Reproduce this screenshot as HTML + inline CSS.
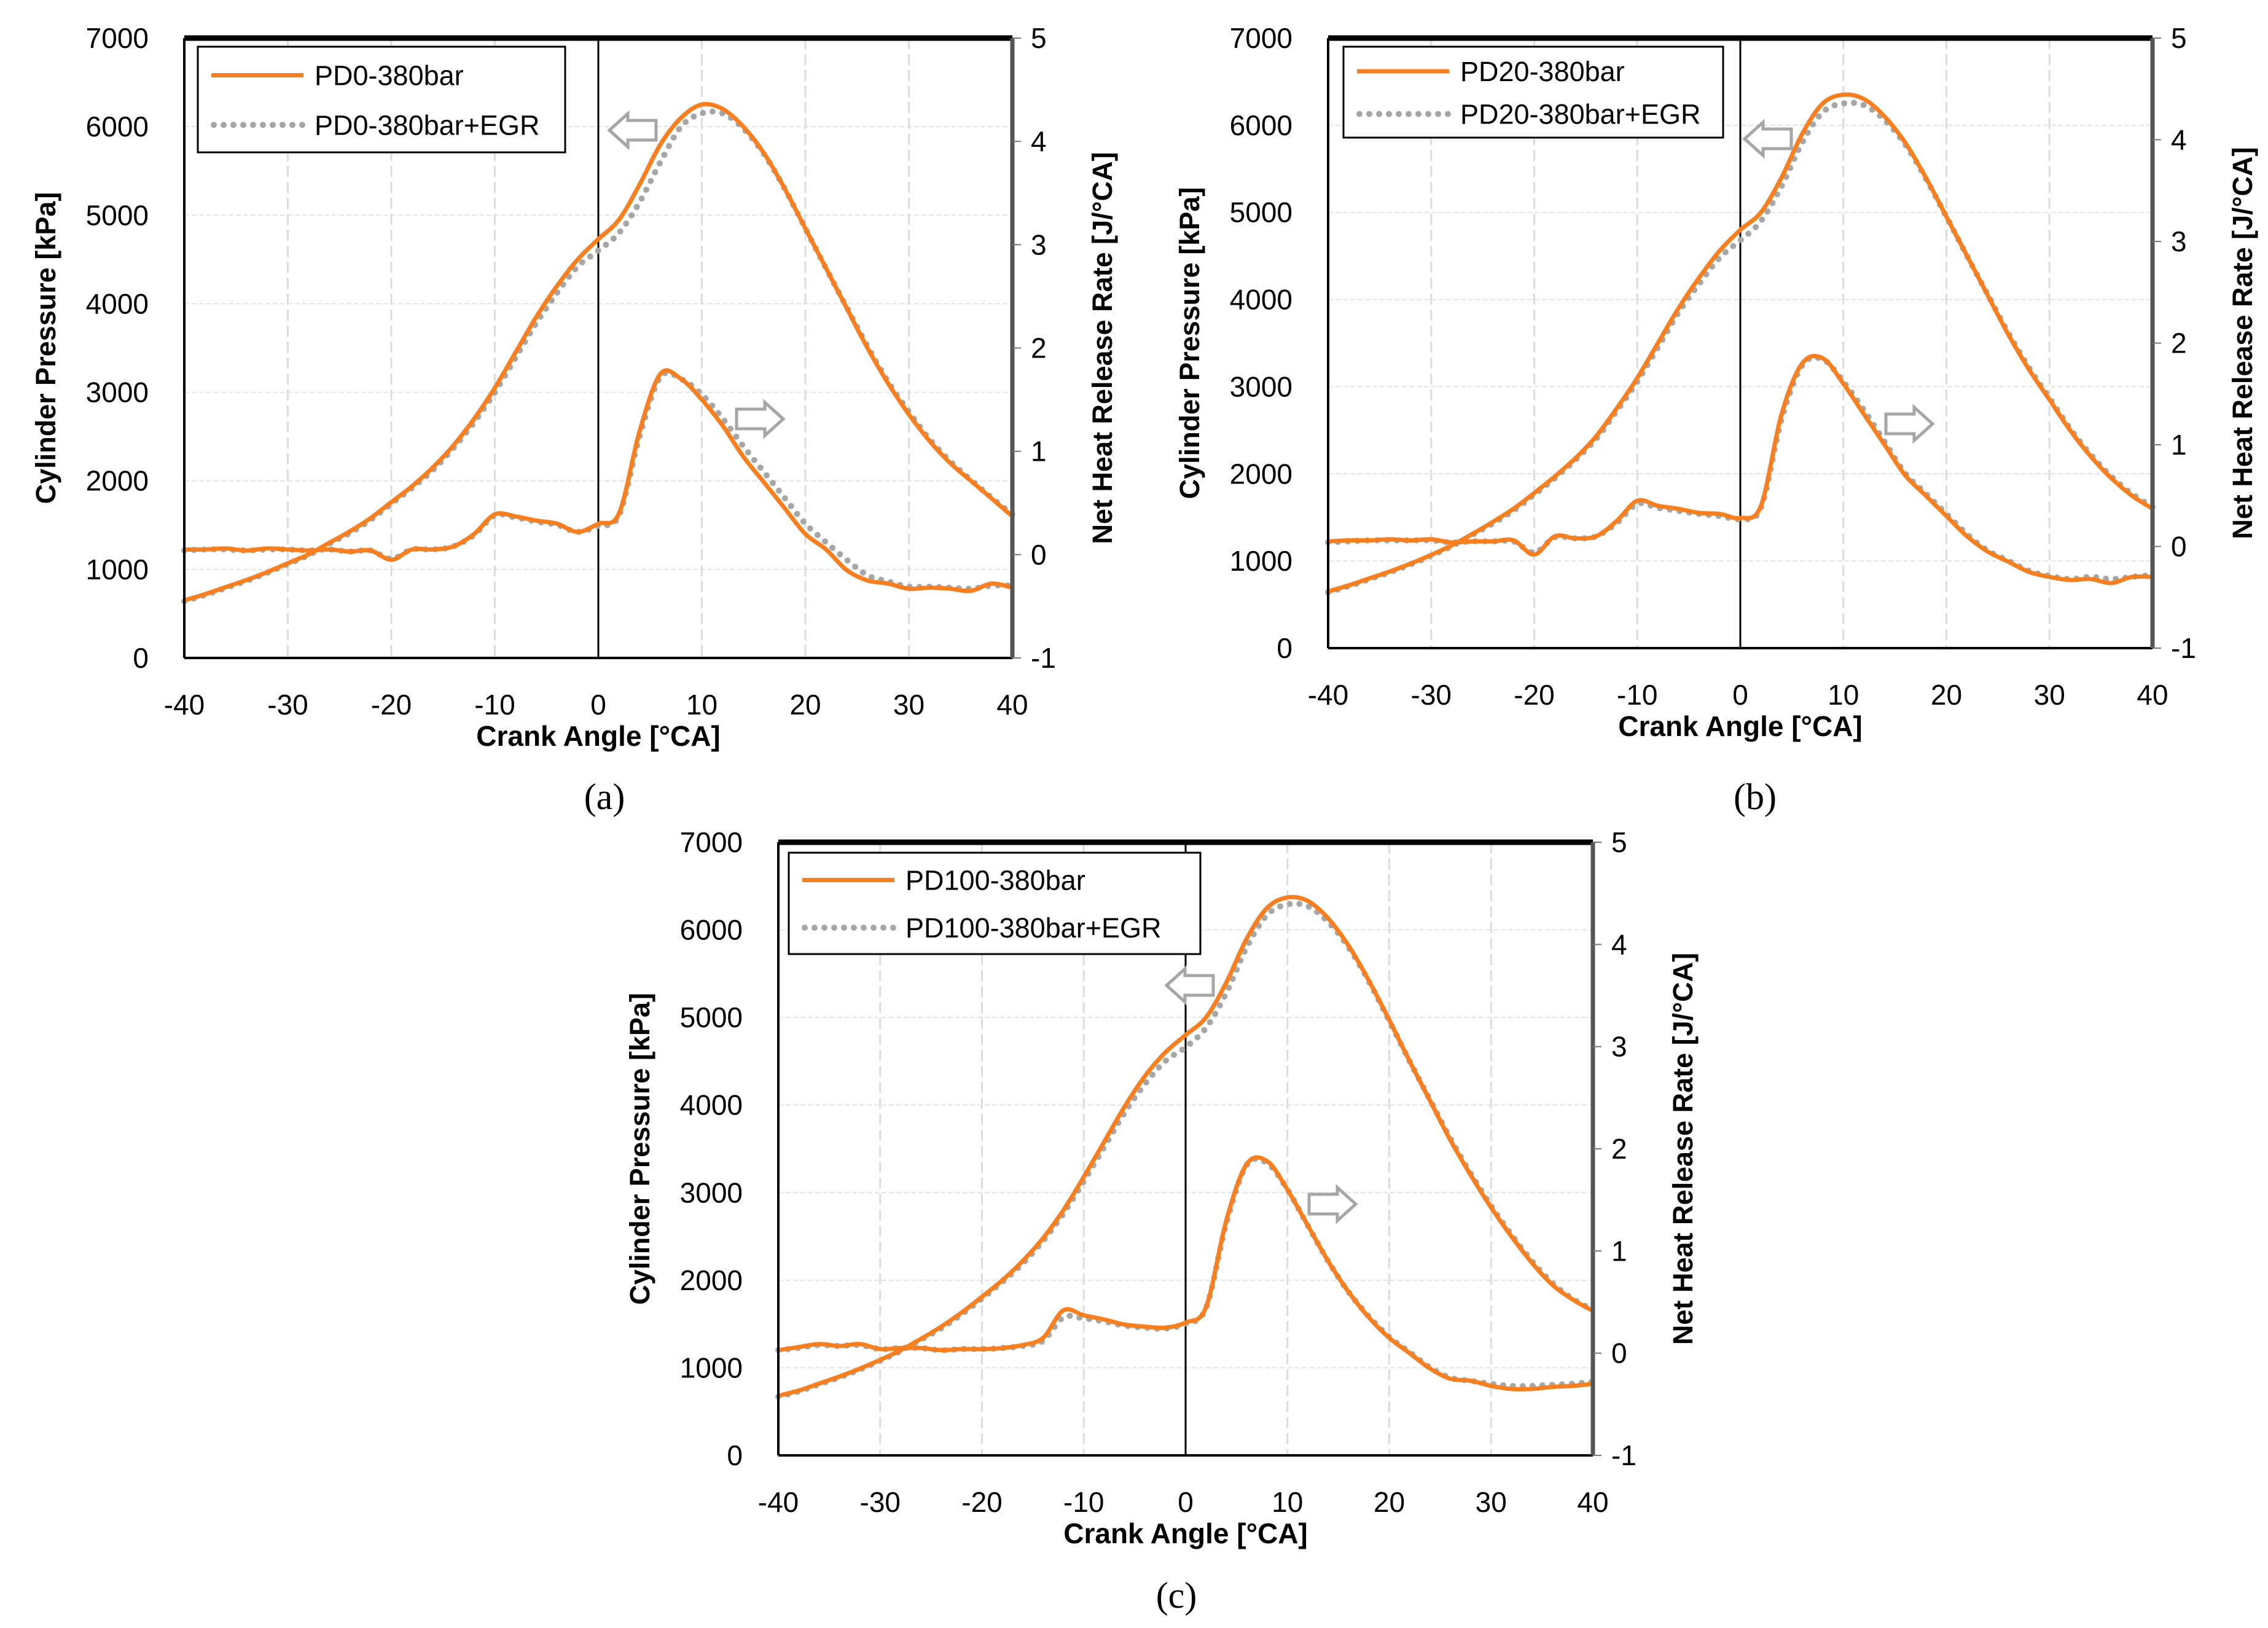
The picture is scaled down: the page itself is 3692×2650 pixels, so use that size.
<!DOCTYPE html>
<html><head><meta charset="utf-8"><style>
html,body{margin:0;padding:0;background:#fff;}
svg{display:block;}
</style></head><body>
<svg id="fig" width="3692" height="2650" viewBox="0 0 3692 2650" xmlns="http://www.w3.org/2000/svg"></svg>
<script>
const angles = [-40,-38,-36,-34,-32,-30,-28,-26,-24,-22,-20,-18,-16,-14,-12,-10,-8,-6,-4,-2,0,2,4,6,8,10,12,14,16,18,20,22,24,26,28,30,32,34,36,38,40];
const xTicks = [-40,-30,-20,-10,0,10,20,30,40];
const pTicks = [0,1000,2000,3000,4000,5000,6000,7000];
const hTicks = [-1,0,1,2,3,4,5];

const pA = [650,720,800,880,970,1070,1170,1300,1430,1580,1760,1940,2150,2400,2700,3050,3450,3850,4200,4500,4730,4950,5350,5800,6100,6250,6200,6000,5700,5300,4850,4400,3950,3500,3100,2750,2450,2200,2000,1800,1600];
const pAegr = [640,710,790,870,960,1060,1160,1290,1410,1560,1740,1920,2120,2370,2660,3000,3390,3780,4120,4420,4600,4800,5150,5600,6000,6150,6150,5980,5690,5300,4850,4400,3960,3520,3120,2780,2470,2220,2010,1810,1620];
const hA = [0.05,0.05,0.06,0.04,0.06,0.05,0.04,0.05,0.03,0.04,-0.05,0.05,0.05,0.08,0.2,0.39,0.37,0.33,0.3,0.22,0.3,0.4,1.2,1.75,1.7,1.5,1.25,0.95,0.7,0.45,0.2,0.05,-0.15,-0.25,-0.28,-0.33,-0.32,-0.33,-0.35,-0.28,-0.32];
const hAegr = [0.04,0.05,0.05,0.04,0.05,0.05,0.04,0.05,0.03,0.04,-0.04,0.05,0.05,0.08,0.19,0.38,0.36,0.32,0.29,0.22,0.28,0.38,1.15,1.72,1.7,1.55,1.32,1.05,0.8,0.55,0.3,0.12,-0.05,-0.2,-0.26,-0.31,-0.31,-0.32,-0.33,-0.3,-0.3];

const pB = [650,720,800,880,970,1070,1180,1310,1450,1600,1780,1970,2180,2430,2750,3100,3500,3900,4250,4560,4800,5000,5400,5900,6250,6350,6300,6100,5800,5400,4950,4500,4050,3600,3200,2850,2500,2200,1950,1750,1600];
const pBegr = [640,710,790,870,960,1060,1170,1300,1430,1580,1760,1950,2160,2400,2720,3060,3450,3850,4180,4480,4680,4900,5300,5800,6150,6250,6230,6060,5780,5390,4950,4500,4060,3620,3220,2870,2520,2220,1970,1770,1620];
const hB = [0.05,0.06,0.06,0.07,0.06,0.07,0.04,0.05,0.05,0.06,-0.08,0.1,0.08,0.1,0.25,0.45,0.4,0.37,0.33,0.32,0.28,0.4,1.3,1.8,1.85,1.6,1.3,1.0,0.7,0.5,0.3,0.1,-0.05,-0.15,-0.25,-0.3,-0.33,-0.32,-0.36,-0.3,-0.3];
const hBegr = [0.04,0.05,0.06,0.06,0.06,0.06,0.04,0.05,0.05,0.05,-0.06,0.09,0.08,0.1,0.23,0.42,0.38,0.35,0.32,0.3,0.27,0.38,1.25,1.78,1.84,1.62,1.34,1.03,0.72,0.52,0.32,0.12,-0.04,-0.14,-0.24,-0.29,-0.32,-0.3,-0.32,-0.3,-0.28];

const pC = [680,740,820,900,990,1090,1200,1330,1470,1630,1810,2000,2220,2480,2800,3180,3580,3980,4330,4600,4800,5000,5400,5900,6250,6370,6330,6130,5820,5420,4970,4500,4050,3600,3200,2830,2500,2200,1950,1780,1650];
const pCegr = [670,730,810,890,980,1080,1190,1320,1450,1610,1790,1980,2190,2450,2760,3130,3520,3910,4240,4500,4660,4880,5280,5800,6170,6290,6270,6090,5800,5410,4960,4500,4060,3620,3220,2850,2520,2220,1970,1790,1660];
const hC = [0.03,0.06,0.09,0.07,0.09,0.04,0.05,0.05,0.03,0.04,0.04,0.05,0.08,0.15,0.42,0.37,0.33,0.28,0.26,0.25,0.3,0.45,1.3,1.85,1.88,1.6,1.25,0.9,0.6,0.35,0.15,0.0,-0.15,-0.25,-0.27,-0.32,-0.35,-0.35,-0.33,-0.32,-0.3];
const hCegr = [0.03,0.05,0.08,0.07,0.08,0.04,0.05,0.05,0.03,0.04,0.04,0.05,0.07,0.12,0.35,0.34,0.31,0.27,0.25,0.24,0.29,0.44,1.27,1.84,1.86,1.6,1.25,0.9,0.6,0.36,0.16,0.01,-0.14,-0.24,-0.27,-0.3,-0.32,-0.32,-0.31,-0.3,-0.28];

const NS='http://www.w3.org/2000/svg';
const svg=document.getElementById('fig');
function el(tag,attrs,parent,txt){const e=document.createElementNS(NS,tag);for(const k in attrs)e.setAttribute(k,attrs[k]);if(txt!==undefined)e.textContent=txt;(parent||svg).appendChild(e);return e;}

function chart(cfg){
  const g=el('g',{});
  
  
  const L=cfg.l,R=cfg.r,T=cfg.t,B=cfg.b;
  const xs=v=>L+(v+40)/80*(R-L);
  const yp=v=>B-v/7000*(B-T);
  const yh=v=>B-(v+1)/6*(B-T);
  pTicks.forEach(v=>{if(v>0&&v<7000){const gl=el('line',{x1:L,x2:R,y1:yp(v),y2:yp(v),stroke:'#e4e4e4','stroke-width':2,'stroke-dasharray':'8 4'},g);}});
  xTicks.forEach(v=>{if(v!==-40&&v!==40&&v!==0){const gl=el('line',{x1:xs(v),x2:xs(v),y1:T,y2:B,stroke:'#dcdcdc','stroke-width':3,'stroke-dasharray':'18 8'},g);}});
  const zl=el('line',{x1:xs(0),x2:xs(0),y1:T,y2:B,stroke:'#000','stroke-width':3},g);
  
  function path(arr,sc){
    const P=arr.map((v,i)=>[xs(angles[i]),sc(v)]);
    let d='M'+P[0][0].toFixed(1)+','+P[0][1].toFixed(1);
    for(let i=0;i<P.length-1;i++){
      const p0=P[Math.max(i-1,0)],p1=P[i],p2=P[i+1],p3=P[Math.min(i+2,P.length-1)];
      const c1=[p1[0]+(p2[0]-p0[0])/6,p1[1]+(p2[1]-p0[1])/6];
      const c2=[p2[0]-(p3[0]-p1[0])/6,p2[1]-(p3[1]-p1[1])/6];
      d+=' C'+c1.map(n=>n.toFixed(1)).join(',')+' '+c2.map(n=>n.toFixed(1)).join(',')+' '+p2.map(n=>n.toFixed(1)).join(',');
    }
    return d;
  }
  const s1=el('path',{d:path(cfg.pE,yp),fill:'none',stroke:'#a6a6a6','stroke-width':10,'stroke-dasharray':'0 16','stroke-linecap':'round'},g);
  
  const s2=el('path',{d:path(cfg.hE,yh),fill:'none',stroke:'#a6a6a6','stroke-width':10,'stroke-dasharray':'0 16','stroke-linecap':'round'},g);
  
  const s3=el('path',{d:path(cfg.p,yp),fill:'none',stroke:'#f77f1f','stroke-width':7,'stroke-linejoin':'round'},g);
  
  const s4=el('path',{d:path(cfg.h,yh),fill:'none',stroke:'#f77f1f','stroke-width':7,'stroke-linejoin':'round'},g);
  
  const fr=el('g',{},g);
  el('line',{x1:L,x2:R,y1:T,y2:T,stroke:'#000','stroke-width':9},fr);
  el('line',{x1:L,x2:L,y1:T,y2:B,stroke:'#000','stroke-width':4},fr);
  el('line',{x1:L,x2:R,y1:B,y2:B,stroke:'#000','stroke-width':4},fr);
  el('line',{x1:R,x2:R,y1:T,y2:B,stroke:'#555','stroke-width':7},fr);
  const font='font-family:"Liberation Sans",sans-serif;';
  xTicks.forEach(v=>{const t=el('text',{x:xs(v),y:B+92,'text-anchor':'middle',style:font+'font-size:46px;fill:#000'},g,String(v));});
  pTicks.forEach(v=>{const t=el('text',{x:L-58,y:yp(v)+16,'text-anchor':'end',style:font+'font-size:46px;fill:#000'},g,String(v));});
  hTicks.forEach(v=>{const t=el('text',{x:R+30,y:yh(v)+16,'text-anchor':'start',style:font+'font-size:46px;fill:#000'},g,String(v));
    el('line',{x1:R,x2:R+14,y1:yh(v),y2:yh(v),stroke:'#777','stroke-width':2},g);});
  const xt=el('text',{x:(L+R)/2,y:B+143,'text-anchor':'middle',style:font+'font-size:46px;font-weight:bold;fill:#000'},g,'Crank Angle [°CA]');
  
  const cy=(T+B)/2;
  const yt=el('text',{x:0,y:0,transform:`translate(${L-210},${cy}) rotate(-90)`,'text-anchor':'middle',style:font+'font-size:45px;font-weight:bold;fill:#000'},g,'Cylinder Pressure [kPa]');
  
  const rt=el('text',{x:0,y:0,transform:`translate(${R+162},${cy}) rotate(-90)`,'text-anchor':'middle',style:font+'font-size:45px;font-weight:bold;fill:#000'},g,'Net Heat Release Rate [J/°CA]');
  
  const lg=el('g',{},g);
  el('rect',{x:cfg.lg[0],y:cfg.lg[1],width:cfg.lg[2],height:cfg.lg[3],fill:'#fff',stroke:'#000','stroke-width':3},lg);
  const lx=cfg.lg[0]+22,ly1=cfg.lg[1]+cfg.lg[3]*0.27,ly2=cfg.lg[1]+cfg.lg[3]*0.74;
  el('line',{x1:lx,x2:lx+150,y1:ly1,y2:ly1,stroke:'#f77f1f','stroke-width':7},lg);
  el('line',{x1:lx+4,x2:lx+150,y1:ly2,y2:ly2,stroke:'#a6a6a6','stroke-width':10,'stroke-dasharray':'0 16','stroke-linecap':'round'},lg);
  const e1=el('text',{x:lx+168,y:ly1+16,style:font+'font-size:45px;fill:#000'},lg,cfg.leg1);
  const e2=el('text',{x:lx+168,y:ly2+16,style:font+'font-size:45px;fill:#000'},lg,cfg.leg2);
  function arrow(cx,cy,dir){const w=76,h=54,sh=16,hw=30;const pts=dir<0?
    [[cx-w/2,cy],[cx-w/2+hw,cy-h/2],[cx-w/2+hw,cy-sh],[cx+w/2,cy-sh],[cx+w/2,cy+sh],[cx-w/2+hw,cy+sh],[cx-w/2+hw,cy+h/2]]:
    [[cx+w/2,cy],[cx+w/2-hw,cy-h/2],[cx+w/2-hw,cy-sh],[cx-w/2,cy-sh],[cx-w/2,cy+sh],[cx+w/2-hw,cy+sh],[cx+w/2-hw,cy+h/2]];
    const a=el('polygon',{points:pts.map(p=>p.join(',')).join(' '),fill:'#fff',stroke:'#a6a6a6','stroke-width':5},g);
    }
  arrow(cfg.a1[0],cfg.a1[1],-1);arrow(cfg.a2[0],cfg.a2[1],1);
  const cap=el('text',{x:cfg.cap[0],y:cfg.cap[1],'text-anchor':'middle',style:'font-family:"Liberation Serif",serif;font-size:60px;fill:#000'},g,cfg.capText);
  
}
chart({name:'chart-a',l:300,r:1648,t:62,b:1071,p:pA,pE:pAegr,h:hA,hE:hAegr,lg:[322,76,598,172],leg1:'PD0-380bar',leg2:'PD0-380bar+EGR',a1:[1030,212],a2:[1237,682],cap:[984,1317],capText:'(a)'});
chart({name:'chart-b',l:2162,r:3504,t:62,b:1055,p:pB,pE:pBegr,h:hB,hE:hBegr,lg:[2187,76,618,148],leg1:'PD20-380bar',leg2:'PD20-380bar+EGR',a1:[2878,226],a2:[3108,690],cap:[2857,1317],capText:'(b)'});
chart({name:'chart-c',l:1267,r:2593,t:1371,b:2369,p:pC,pE:pCegr,h:hC,hE:hCegr,lg:[1284,1388,670,165],leg1:'PD100-380bar',leg2:'PD100-380bar+EGR',a1:[1937,1604],a2:[2169,1960],cap:[1915,2617],capText:'(c)'});
</script>
</body></html>
